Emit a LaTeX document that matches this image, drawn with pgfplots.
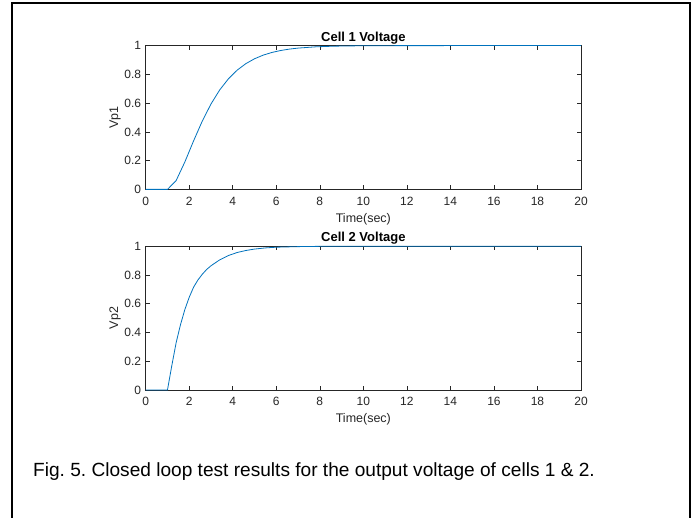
\documentclass[border=0pt]{standalone}
\usepackage{fontspec}
\setmainfont{Liberation Sans}
\usepackage{pgfplots}
\pgfplotsset{compat=1.18}
\definecolor{mblue}{rgb}{0,0.447,0.741}
\definecolor{mgray}{rgb}{0.15,0.15,0.15}
\pgfplotsset{myax/.style={
  scale only axis, width=435.3pt, height=143.8pt,
  xmin=0, xmax=20, ymin=0, ymax=1,
  xtick={0,2,4,6,8,10,12,14,16,18,20},
  ytick={0,0.2,0.4,0.6,0.8,1},
  tick align=inside, major tick length=4pt,
  axis line style={mgray, line width=0.6pt},
  tick style={mgray, line width=0.6pt},
  /pgf/number format/assume math mode=true,
  every tick label/.append style={font=\fontsize{12}{14}\selectfont, text=mgray},
  xticklabel style={yshift=-4pt},
  yticklabel style={xshift=-1pt},
  label style={font=\fontsize{12.5}{14}\selectfont, text=mgray},
  xlabel style={yshift=-1pt},
  ylabel style={yshift=-3pt},
  title style={font=\fontsize{13}{15}\selectfont\bfseries, yshift=-8pt},
  xlabel={Time(sec)},
  clip=false,
}}
\begin{document}
\frenchspacing
\begin{tikzpicture}
\useasboundingbox (0pt,0pt) rectangle (697pt,518pt);
\fill[white] (0pt,0pt) rectangle (697pt,518pt);
\draw[line width=1.6pt] (12pt,-2pt) -- (12pt,515pt) -- (690pt,515pt) -- (690pt,-2pt);
\begin{axis}[myax, at={(145.7pt,328.6pt)}, anchor=south west,
  title={Cell 1 Voltage}, ylabel={Vp1}]
\addplot[mblue, line width=0.8pt] coordinates {
(0,0) (1.0,0) (1.4,0.0616) (1.8,0.1912) (2.2,0.3374) (2.6,0.4751)
(3.0,0.5940) (3.4,0.6916) (3.8,0.7689) (4.2,0.8288) (4.6,0.8743)
(5.0,0.9084) (5.4,0.9337) (5.8,0.9523) (6.2,0.9658) (6.6,0.9756)
(7.0,0.9826) (7.8,0.9913) (8.6,0.9957) (9.4,0.9979) (10.2,0.9990)
(11,0.9995) (13,0.9999) (15,1.0) (20,1.0)};
\end{axis}
\begin{axis}[myax, at={(145.7pt,128pt)}, anchor=south west,
  title={Cell 2 Voltage}, ylabel={Vp2}]
\addplot[mblue, line width=0.8pt] coordinates {
(0,0) (1.0,0) (1.2,0.17) (1.4,0.33) (1.6,0.455) (1.8,0.56)
(2.0,0.645) (2.2,0.715) (2.4,0.765) (2.6,0.805) (2.8,0.838)
(3.0,0.864) (3.4,0.905) (3.8,0.935) (4.2,0.956) (4.6,0.970)
(5.0,0.980) (5.5,0.988) (6.0,0.993) (7.0,0.997) (8.0,0.999)
(10,1.0) (20,1.0)};
\end{axis}
\node[anchor=base west, inner sep=0pt, font=\fontsize{19.1}{22}\selectfont] at (33pt,41pt)
  {Fig. 5. Closed loop test results for the output voltage of cells 1 \& 2.};
\end{tikzpicture}
\end{document}
